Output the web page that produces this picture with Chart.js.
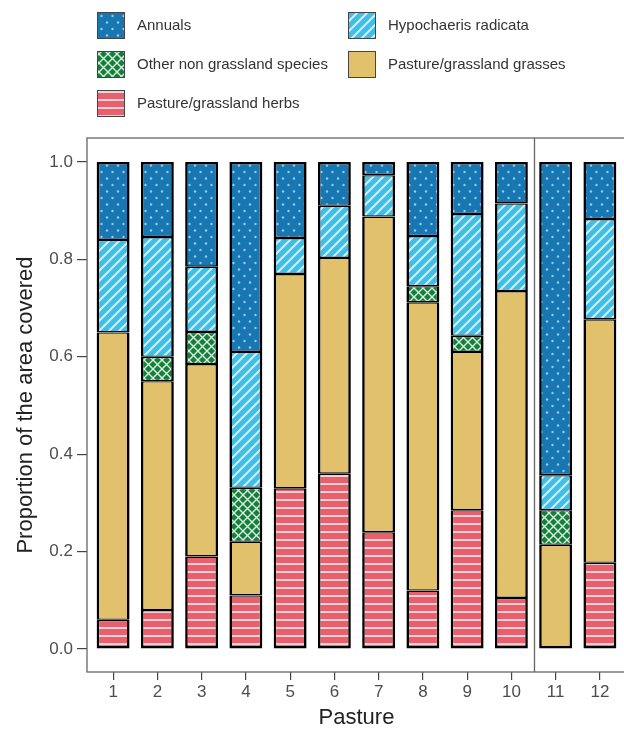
<!DOCTYPE html>
<html>
<head>
<meta charset="utf-8">
<script src="https://cdn.jsdelivr.net/npm/chart.js@4"></script>
<style>
  html, body { margin: 0; padding: 0; background: #fff; overflow: hidden; }
  #wrap { width: 630px; height: 735px; }
</style>
</head>
<body>
<div id="wrap"><canvas id="myChart" width="630" height="735"></canvas></div>
<script>
// pastures along the x axis
var pastures = ['1', '2', '3', '4', '5', '6', '7', '8', '9', '10', '11', '12'];
var yTicks = [0, 0.2, 0.4, 0.6, 0.8, 1.0];

// proportions per pasture (bottom of stack first)
var herbs      = [0.06, 0.08, 0.19, 0.11, 0.33, 0.36, 0.24, 0.12, 0.285, 0.105, 0, 0.177];
var grasses    = [0.59, 0.47, 0.395, 0.11, 0.44, 0.443, 0.648, 0.592, 0.325, 0.63, 0.214, 0.50];
var otherSpp   = [0, 0.05, 0.066, 0.111, 0, 0, 0, 0.033, 0.033, 0, 0.071, 0];
var hypochaeris = [0.19, 0.246, 0.134, 0.279, 0.074, 0.107, 0.085, 0.103, 0.25, 0.18, 0.072, 0.206];
var annuals    = [0.16, 0.154, 0.215, 0.39, 0.156, 0.09, 0.027, 0.152, 0.107, 0.085, 0.643, 0.117];

var font = '"Liberation Sans", Arial, sans-serif';

function makePattern(kind, color) {
  var c = document.createElement('canvas');
  var w = 8, h = 8;
  if (kind == 'cross') { w = 9; h = 9; }
  if (kind == 'diag') { w = 10; h = 10; }
  if (kind == 'dots') { w = 11; h = 13; }
  c.width = w; c.height = h;
  var g = c.getContext('2d');
  g.fillStyle = color;
  g.fillRect(0, 0, w, h);
  if (kind == 'dots') {
    g.fillStyle = 'rgba(255,255,255,0.6)';
    [[2.5, 3], [8, 9.5]].forEach(function(p) {
      g.beginPath(); g.arc(p[0], p[1], 1.2, 0, Math.PI * 2); g.fill();
    });
  } else if (kind == 'diag') {
    g.strokeStyle = 'rgba(255,255,255,0.75)';
    g.lineWidth = 2;
    g.beginPath();
    g.moveTo(-2, h + 2); g.lineTo(w + 2, -2);
    g.moveTo(-2, 2); g.lineTo(2, -2);
    g.moveTo(w - 2, h + 2); g.lineTo(w + 2, h - 2);
    g.stroke();
  } else if (kind == 'cross') {
    g.strokeStyle = 'rgba(255,255,255,0.85)';
    g.lineWidth = 1.4;
    g.beginPath();
    g.moveTo(0, 0); g.lineTo(w, h);
    g.moveTo(0, h); g.lineTo(w, 0);
    g.stroke();
  } else if (kind == 'hline') {
    g.fillStyle = 'rgba(255,255,255,0.7)';
    g.fillRect(0, 3, w, 2);
  }
  return g.createPattern(c, 'repeat');
}

function toPoints(arr) {
  return arr.map(function(v, i) { return { x: i + 1, y: v }; });
}

var series = [
  { label: 'Pasture/grassland herbs', data: herbs, fill: makePattern('hline', '#e85f6d') },
  { label: 'Pasture/grassland grasses', data: grasses, fill: '#e2c16d' },
  { label: 'Other non grassland species', data: otherSpp, fill: makePattern('cross', '#13803a') },
  { label: 'Hypochaeris radicata', data: hypochaeris, fill: makePattern('diag', '#3cc0e9') },
  { label: 'Annuals', data: annuals, fill: makePattern('dots', '#1677b3') }
];

// thick outline round the whole bar, thinner where two segments meet
function segBorder(c) {
  var i = c.dataIndex, d = c.datasetIndex;
  var below = series.slice(0, d).some(function(s) { return s.data[i] > 0; });
  var above = series.slice(d + 1).some(function(s) { return s.data[i] > 0; });
  return { left: 2.6, right: 2.6, top: above ? 1.4 : 2.6, bottom: below ? 1.4 : 2.6 };
}

var datasets = series.map(function(s) {
  return {
    label: s.label,
    data: toPoints(s.data),
    backgroundColor: s.fill,
    borderColor: '#000',
    borderWidth: segBorder,
    borderSkipped: false,
    barPercentage: 0.93,
    categoryPercentage: 0.8
  };
});

// panel box, facet divider and the legend on top
var decor = {
  id: 'decor',
  afterDraw: function(chart) {
    var ctx = chart.ctx;
    var a = chart.chartArea;
    var xs = chart.scales.x;
    ctx.save();
    ctx.strokeStyle = '#666';
    ctx.lineWidth = 1.3;
    ctx.strokeRect(a.left, a.top, a.right - a.left, a.bottom - a.top);
    var xd = Math.round(xs.getPixelForValue(10.5)) + 0.5;
    ctx.beginPath();
    ctx.moveTo(xd, a.top);
    ctx.lineTo(xd, a.bottom);
    ctx.stroke();

    var order = series.slice().reverse();
    ctx.font = '15px ' + font;
    ctx.textBaseline = 'middle';
    order.forEach(function(s, i) {
      var x = i % 2 == 0 ? 97 : 348;
      var y = 12 + Math.floor(i / 2) * 39;
      ctx.fillStyle = s.fill;
      ctx.fillRect(x, y, 28, 27);
      ctx.strokeStyle = '#444';
      ctx.lineWidth = 1;
      ctx.strokeRect(x + 0.5, y + 0.5, 27, 26);
      ctx.fillStyle = '#333';
      ctx.fillText(s.label, x + 40, y + 14);
    });
    ctx.restore();
  }
};

var ctx = document.getElementById('myChart').getContext('2d');
var chart = new Chart(ctx, {
  type: 'bar',
  data: { datasets: datasets },
  plugins: [decor],
  options: {
    responsive: false,
    animation: false,
    layout: { padding: { top: 138, left: 9, right: 4, bottom: 0 } },
    plugins: {
      legend: { display: false },
      tooltip: { enabled: false }
    },
    scales: {
      x: {
        type: 'linear',
        stacked: true,
        offset: false,
        min: 0.41,
        max: 12.59,
        afterBuildTicks: function(scale) {
          scale.ticks = pastures.map(function(p, i) { return { value: i + 1 }; });
        },
        afterFit: function(scale) { scale.height = 63; },
        ticks: {
          color: '#4d4d4d',
          font: { family: font, size: 17 },
          padding: 2,
          maxRotation: 0,
          callback: function(v, i) { return pastures[i]; }
        },
        grid: { offset: false, drawOnChartArea: false, drawTicks: true, tickLength: 8, color: '#444', lineWidth: 1.2 },
        border: { display: false },
        title: { display: true, text: 'Pasture', color: '#222', font: { family: font, size: 22 }, padding: { top: 0, bottom: 4 } }
      },
      y: {
        stacked: true,
        min: -0.0472,
        max: 1.0493,
        afterBuildTicks: function(scale) {
          scale.ticks = yTicks.map(function(v) { return { value: v }; });
        },
        afterFit: function(scale) { scale.width = 78; },
        ticks: {
          color: '#4d4d4d',
          font: { family: font, size: 17 },
          padding: 4,
          callback: function(v) { return v.toFixed(1); }
        },
        grid: { drawOnChartArea: false, drawTicks: true, tickLength: 10, color: '#444', lineWidth: 1.2 },
        border: { display: false },
        title: { display: true, text: 'Proportion of the area covered', color: '#222', font: { family: font, size: 22 }, padding: 4 }
      }
    }
  }
});
</script>
</body>
</html>
